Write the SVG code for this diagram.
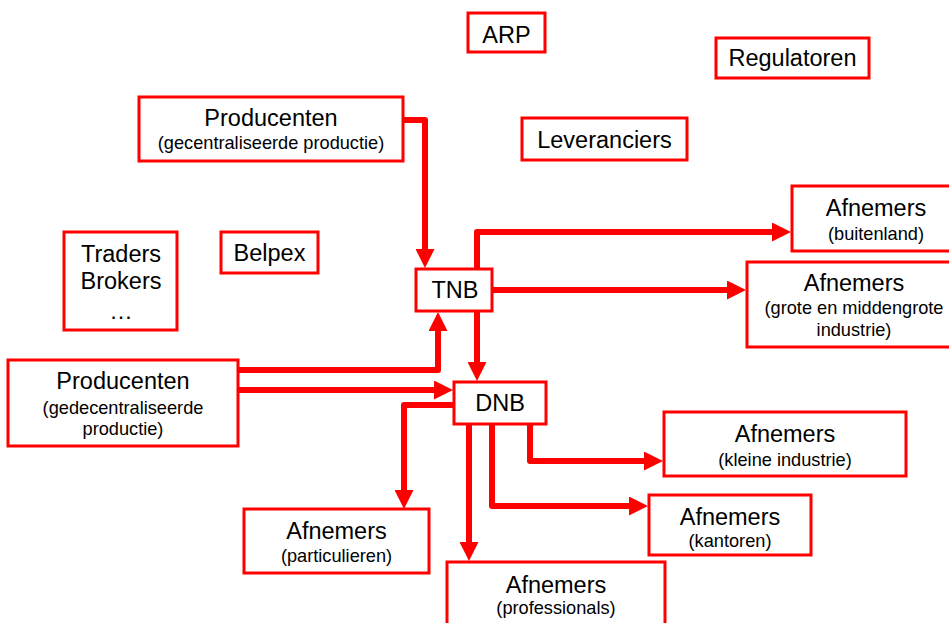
<svg xmlns="http://www.w3.org/2000/svg" width="949" height="623" viewBox="0 0 949 623">
<style>
.box{fill:#fff;stroke:#ff0000;stroke-width:3}
.t{font-family:"Liberation Sans",Arial,sans-serif;fill:#000;text-anchor:middle}
.m{font-size:23.5px}
.s{font-size:18.2px}
.c{fill:none;stroke:#ff0000;stroke-width:6;stroke-linejoin:round}
</style>
<defs>
<marker id="ah" markerUnits="userSpaceOnUse" markerWidth="19" markerHeight="19" refX="0" refY="9.5" orient="auto" viewBox="0 0 19 19">
<path d="M0,0 L19,9.5 L0,19 z" fill="#ff0000"/>
</marker>
</defs>
<rect width="949" height="623" fill="#fff"/>
<g id="connectors">
<path class="c" d="M403,120 H425 V249" marker-end="url(#ah)"/>
<path class="c" d="M477,269 V232 H772" marker-end="url(#ah)"/>
<path class="c" d="M492,290 H727" marker-end="url(#ah)"/>
<path class="c" d="M477,311 V362" marker-end="url(#ah)"/>
<path class="c" d="M238,370 H438 V331" marker-end="url(#ah)"/>
<path class="c" d="M238,390 H434" marker-end="url(#ah)"/>
<path class="c" d="M454,405 H404 V490" marker-end="url(#ah)"/>
<path class="c" d="M469,424 V542" marker-end="url(#ah)"/>
<path class="c" d="M492,424 V506 H629" marker-end="url(#ah)"/>
<path class="c" d="M530,424 V461 H644" marker-end="url(#ah)"/>
</g>
<g id="arp"><rect class="box" x="468" y="13" width="77" height="39"/><text class="t m" x="506.5" y="43">ARP</text></g>
<g id="regulatoren"><rect class="box" x="716" y="38" width="153" height="40"/><text class="t m" x="792.5" y="66">Regulatoren</text></g>
<g id="leveranciers"><rect class="box" x="522" y="118" width="165" height="42"/><text class="t m" x="604.5" y="148">Leveranciers</text></g>
<g id="producenten-gec"><rect class="box" x="139" y="97" width="264" height="64"/><text class="t m" x="271" y="126">Producenten</text><text class="t s" x="271" y="149">(gecentraliseerde productie)</text></g>
<g id="traders"><rect class="box" x="64" y="232" width="113" height="98"/><text class="t m" x="121" y="262">Traders</text><text class="t m" x="121" y="289">Brokers</text><text class="t m" x="121" y="319">…</text></g>
<g id="belpex"><rect class="box" x="221" y="232" width="97" height="41"/><text class="t m" x="269.5" y="261">Belpex</text></g>
<g id="tnb"><rect class="box" x="416" y="269" width="76" height="42"/><text class="t m" x="455" y="298">TNB</text></g>
<g id="dnb"><rect class="box" x="454" y="382" width="92" height="42"/><text class="t m" x="500" y="411">DNB</text></g>
<g id="producenten-dec"><rect class="box" x="8" y="360" width="230" height="86"/><text class="t m" x="123" y="389">Producenten</text><text class="t s" x="123" y="414">(gedecentraliseerde</text><text class="t s" x="123" y="435">productie)</text></g>
<g id="afn-buitenland"><rect class="box" x="792" y="186" width="170" height="65"/><text class="t m" x="876" y="216">Afnemers</text><text class="t s" x="876" y="240">(buitenland)</text></g>
<g id="afn-grote"><rect class="box" x="747" y="262" width="215" height="85"/><text class="t m" x="854" y="291">Afnemers</text><text class="t s" x="854" y="314">(grote en middengrote</text><text class="t s" x="854" y="336">industrie)</text></g>
<g id="afn-kleine"><rect class="box" x="664" y="412" width="242" height="64"/><text class="t m" x="785" y="442">Afnemers</text><text class="t s" x="785" y="466">(kleine industrie)</text></g>
<g id="afn-kantoren"><rect class="box" x="649" y="495" width="162" height="60"/><text class="t m" x="730" y="525">Afnemers</text><text class="t s" x="730" y="547">(kantoren)</text></g>
<g id="afn-particulieren"><rect class="box" x="244" y="509" width="185" height="64"/><text class="t m" x="336.5" y="539">Afnemers</text><text class="t s" x="336.5" y="562">(particulieren)</text></g>
<g id="afn-professionals"><rect class="box" x="447" y="562" width="218" height="70"/><text class="t m" x="556" y="593">Afnemers</text><text class="t s" x="556" y="614">(professionals)</text></g>
</svg>
